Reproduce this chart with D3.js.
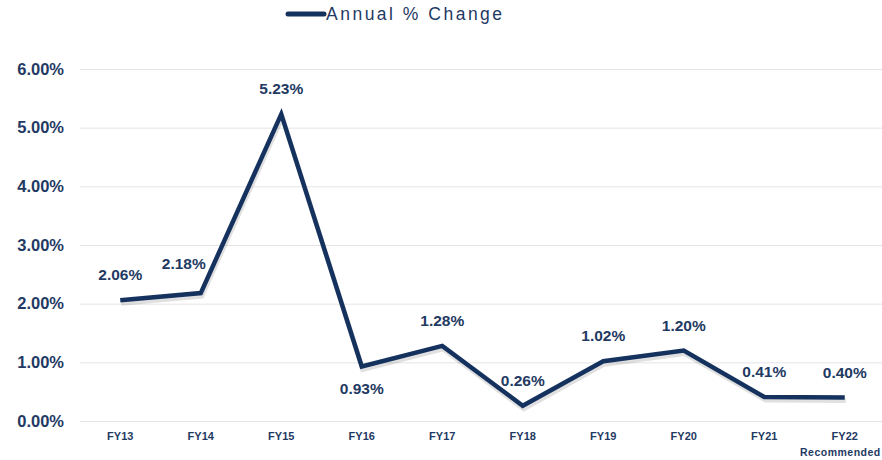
<!DOCTYPE html>
<html>
<head>
<meta charset="utf-8">
<script src="https://cdn.jsdelivr.net/npm/d3@7"></script>
<style>
  body { margin: 0; background: #fff; }
  svg { display: block; font-family: "Liberation Sans", Arial, sans-serif; }
</style>
</head>
<body>
<svg id="chart" width="882" height="460"></svg>
<script>
// data
var years = ["FY13", "FY14", "FY15", "FY16", "FY17", "FY18", "FY19", "FY20", "FY21", "FY22"];
var subLabels = ["", "", "", "", "", "", "", "", "", "Recommended"];
var changes = [2.06, 2.18, 5.23, 0.93, 1.28, 0.26, 1.02, 1.20, 0.41, 0.40];
var labelBelow = [false, false, false, true, false, false, false, false, false, false];
var labelShift = [0, -17, 0, 0, 0, 0, 0, 0, 0, 0];
var yTicks = [0, 1, 2, 3, 4, 5, 6];

var navy = "#15325f",
    textNavy = "#1f3a63";

var svg = d3.select("#chart");

var x = d3.scaleBand().domain(years).range([80, 885]),
    y = d3.scaleLinear().domain([0, 6]).range([421, 69]);

// grid + y labels
var yAxis = svg.append("g")
  .attr("transform", "translate(80,0)")
  .call(d3.axisLeft(y).tickValues(yTicks).tickSize(-805).tickPadding(16)
    .tickFormat(function(d) { return d.toFixed(2) + "%"; }));
yAxis.select(".domain").remove();
yAxis.selectAll(".tick line").attr("stroke", "#e4e4e4").attr("stroke-width", 1);
yAxis.selectAll(".tick text")
  .attr("fill", textNavy)
  .style("font-size", "16.5px")
  .style("font-weight", "bold");

// x labels
var xAxis = svg.append("g")
  .attr("transform", "translate(0,421)")
  .call(d3.axisBottom(x).tickSize(0).tickPadding(11));
xAxis.select(".domain").remove();
xAxis.selectAll(".tick text")
  .attr("fill", textNavy)
  .style("font-size", "11px")
  .style("font-weight", "bold");
xAxis.selectAll(".tick").append("text")
  .attr("x", 36)
  .attr("y", 35)
  .attr("fill", textNavy)
  .attr("text-anchor", "end")
  .style("font-size", "10.5px")
  .style("font-weight", "bold")
  .style("letter-spacing", "0.5px")
  .text(function(d, i) { return subLabels[i]; });

var cx = function(d, i) { return x(years[i]) + x.bandwidth() / 2; };

var line = d3.line()
  .x(cx)
  .y(function(d) { return y(d); });

// soft shadow then line
svg.append("path")
  .datum(changes)
  .attr("d", line)
  .attr("transform", "translate(1,3)")
  .attr("fill", "none")
  .attr("stroke", "rgba(0,0,0,0.12)")
  .attr("stroke-width", 5)
  .attr("stroke-linejoin", "miter");

svg.append("path")
  .datum(changes)
  .attr("d", line)
  .attr("fill", "none")
  .attr("stroke", navy)
  .attr("stroke-width", 4.5)
  .attr("stroke-linejoin", "miter");

// point labels
svg.selectAll("text.val")
  .data(changes)
  .enter().append("text")
  .attr("class", "val")
  .attr("x", function(d, i) { return cx(d, i) + labelShift[i]; })
  .attr("y", function(d, i) { return labelBelow[i] ? y(d) + 28 : y(d) - 20 - (labelShift[i] ? 4 : 0); })
  .attr("text-anchor", "middle")
  .attr("fill", textNavy)
  .style("font-size", "15.5px")
  .style("font-weight", "bold")
  .text(function(d) { return d.toFixed(2) + "%"; });

// legend
var legend = svg.append("g");
legend.append("line")
  .attr("x1", 288).attr("x2", 324)
  .attr("y1", 14).attr("y2", 14)
  .attr("stroke", navy).attr("stroke-width", 5)
  .attr("stroke-linecap", "round");
legend.append("text")
  .attr("x", 326).attr("y", 20)
  .attr("fill", textNavy)
  .style("font-size", "17.5px")
  .style("letter-spacing", "2.5px")
  .text("Annual % Change");
</script>
</body>
</html>
